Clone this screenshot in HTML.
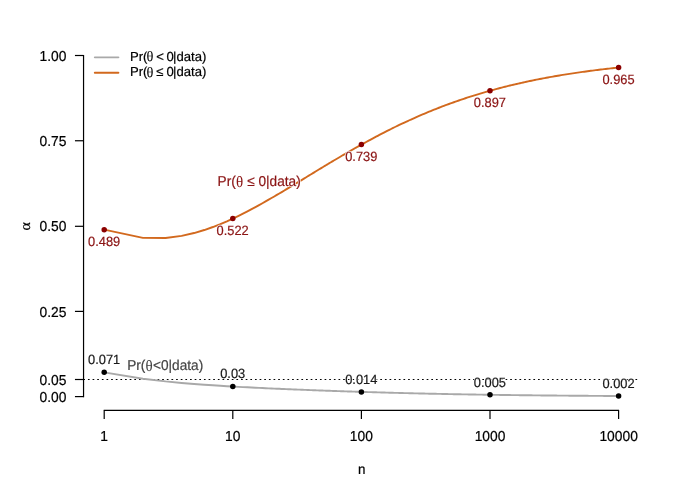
<!DOCTYPE html>
<html><head><meta charset="utf-8"><title>plot</title>
<style>
html,body{margin:0;padding:0;background:#fff;}
body{width:681px;height:494px;overflow:hidden;}
svg{display:block;will-change:transform;}
text{font-family:"Liberation Sans",sans-serif;text-rendering:geometricPrecision;stroke-width:0.2px;}
</style></head><body>
<svg width="681" height="494" viewBox="0 0 681 494">
<rect width="681" height="494" fill="#ffffff"/>

<g stroke="#000" stroke-width="1.2" fill="none" stroke-linecap="butt">
<path d="M83.55 54.90 V397.20"/>
<path d="M74.95 396.60 H83.55"/>
<path d="M74.95 379.50 H83.55"/>
<path d="M74.95 311.40 H83.55"/>
<path d="M74.95 226.30 H83.55"/>
<path d="M74.95 140.75 H83.55"/>
<path d="M74.95 55.50 H83.55"/>
<path d="M103.70 410.40 H619.10"/>
<path d="M104.20 410.40 V419.10"/>
<path d="M232.80 410.40 V419.10"/>
<path d="M361.40 410.40 V419.10"/>
<path d="M490.00 410.40 V419.10"/>
<path d="M618.60 410.40 V419.10"/>
</g>
<text transform="translate(66.40 401.90) scale(1 1.045)" font-size="13.84px" fill="#000" stroke="#000" text-anchor="end">0.00</text>
<text transform="translate(66.40 384.84) scale(1 1.045)" font-size="13.84px" fill="#000" stroke="#000" text-anchor="end">0.05</text>
<text transform="translate(66.40 316.61) scale(1 1.045)" font-size="13.84px" fill="#000" stroke="#000" text-anchor="end">0.25</text>
<text transform="translate(66.40 231.32) scale(1 1.045)" font-size="13.84px" fill="#000" stroke="#000" text-anchor="end">0.50</text>
<text transform="translate(66.40 146.04) scale(1 1.045)" font-size="13.84px" fill="#000" stroke="#000" text-anchor="end">0.75</text>
<text transform="translate(66.40 60.75) scale(1 1.045)" font-size="13.84px" fill="#000" stroke="#000" text-anchor="end">1.00</text>
<text transform="translate(104.20 440.50) scale(1 1.045)" font-size="13.84px" fill="#000" stroke="#000" text-anchor="middle">1</text>
<text transform="translate(232.80 440.50) scale(1 1.045)" font-size="13.84px" fill="#000" stroke="#000" text-anchor="middle">10</text>
<text transform="translate(361.40 440.50) scale(1 1.045)" font-size="13.84px" fill="#000" stroke="#000" text-anchor="middle">100</text>
<text transform="translate(490.00 440.50) scale(1 1.045)" font-size="13.84px" fill="#000" stroke="#000" text-anchor="middle">1000</text>
<text transform="translate(618.60 440.50) scale(1 1.045)" font-size="13.84px" fill="#000" stroke="#000" text-anchor="middle">10000</text>
<text transform="translate(361.70 474.00) scale(1 1.045)" font-size="13.40px" fill="#000" stroke="#000" text-anchor="middle">n</text>
<text transform="translate(29.7 226.3) rotate(-90) scale(1.06 0.97)" font-size="15px" fill="#000" stroke="#000" text-anchor="middle" style="font-family:'Liberation Serif',serif">α</text>
<path d="M83.30 379.50 H639.50" stroke="#000" stroke-width="1" stroke-dasharray="1.7 2.94" fill="none"/>
<path d="M104.20 372.36 L142.91 378.69 L165.56 381.39 L181.62 382.94 L194.09 383.98 L204.27 384.74 L212.88 385.32 L220.34 385.80 L226.92 386.20 L232.80 386.53 L238.12 386.83 L242.98 387.09 L247.45 387.32 L251.59 387.53 L255.45 387.72 L259.05 387.90 L262.44 388.06 L265.63 388.21 L268.65 388.35 L271.51 388.48 L274.24 388.60 L276.84 388.72 L279.32 388.82 L281.70 388.93 L283.98 389.03 L286.17 389.12 L288.27 389.21 L290.30 389.29 L292.26 389.37 L294.16 389.45 L295.99 389.53 L297.76 389.60 L299.48 389.67 L301.15 389.74 L302.77 389.80 L304.34 389.86 L305.87 389.92 L307.36 389.98 L308.81 390.04 L310.22 390.09 L311.60 390.14 L312.95 390.20 L314.26 390.25 L315.55 390.29 L316.80 390.34 L318.03 390.39 L319.23 390.43 L320.41 390.48 L321.56 390.52 L322.69 390.56 L323.79 390.60 L324.88 390.64 L325.94 390.68 L326.99 390.72 L328.01 390.75 L329.02 390.79 L330.01 390.82 L330.98 390.86 L331.93 390.89 L332.87 390.93 L333.79 390.96 L334.70 390.99 L335.60 391.02 L336.47 391.05 L337.34 391.08 L338.19 391.11 L339.03 391.14 L339.86 391.17 L340.68 391.20 L341.48 391.22 L342.27 391.25 L343.05 391.28 L343.82 391.30 L344.58 391.33 L345.33 391.35 L346.07 391.38 L346.80 391.40 L347.52 391.43 L348.23 391.45 L348.94 391.47 L349.63 391.50 L350.32 391.52 L350.99 391.54 L351.66 391.56 L352.32 391.59 L352.98 391.61 L353.62 391.63 L354.26 391.65 L354.89 391.67 L355.52 391.69 L356.13 391.71 L356.74 391.73 L357.35 391.75 L357.94 391.77 L358.54 391.79 L359.12 391.80 L359.70 391.82 L360.27 391.84 L360.84 391.86 L361.40 391.88 L363.05 391.93 L364.65 391.98 L366.21 392.02 L368.23 392.09 L369.69 392.13 L371.12 392.17 L372.96 392.23 L374.75 392.28 L376.05 392.32 L377.75 392.37 L379.39 392.42 L381.38 392.47 L382.92 392.52 L384.42 392.56 L386.24 392.61 L387.65 392.65 L389.37 392.70 L391.04 392.74 L392.65 392.79 L394.54 392.84 L396.06 392.88 L397.83 392.92 L399.27 392.96 L400.94 393.00 L402.57 393.05 L404.41 393.09 L405.94 393.13 L407.67 393.17 L409.36 393.22 L410.99 393.26 L412.58 393.29 L414.33 393.34 L415.83 393.37 L417.49 393.41 L419.10 393.45 L420.86 393.49 L422.57 393.53 L424.05 393.56 L425.84 393.60 L427.40 393.64 L429.09 393.68 L430.73 393.71 L432.32 393.75 L434.02 393.78 L435.67 393.82 L437.41 393.86 L438.96 393.89 L440.61 393.92 L442.34 393.96 L443.89 393.99 L445.65 394.02 L447.23 394.05 L448.89 394.09 L450.50 394.12 L452.17 394.15 L453.80 394.18 L455.48 394.21 L457.12 394.24 L458.80 394.27 L460.44 394.30 L462.12 394.33 L463.75 394.36 L465.42 394.39 L467.05 394.42 L468.71 394.45 L470.32 394.48 L472.04 394.51 L473.63 394.53 L475.33 394.56 L476.98 394.59 L478.64 394.62 L480.26 394.64 L481.90 394.67 L483.55 394.69 L485.22 394.72 L486.84 394.74 L488.53 394.77 L490.17 394.79 L491.81 394.82 L493.46 394.84 L495.12 394.87 L496.78 394.89 L498.43 394.91 L500.09 394.94 L501.74 394.96 L503.39 394.98 L505.04 395.00 L506.68 395.02 L508.31 395.05 L509.98 395.07 L511.63 395.09 L513.27 395.11 L514.94 395.13 L516.60 395.15 L518.24 395.17 L519.90 395.19 L521.54 395.21 L523.20 395.23 L524.84 395.25 L526.49 395.27 L528.15 395.29 L529.79 395.30 L531.44 395.32 L533.09 395.34 L534.74 395.36 L536.40 395.38 L538.05 395.39 L539.70 395.41 L541.35 395.43 L543.00 395.44 L544.64 395.46 L546.29 395.48 L547.94 395.49 L549.60 395.51 L551.25 395.52 L552.90 395.54 L554.56 395.55 L556.20 395.57 L557.85 395.58 L559.50 395.60 L561.15 395.61 L562.80 395.63 L564.46 395.64 L566.11 395.66 L567.76 395.67 L569.41 395.68 L571.06 395.70 L572.71 395.71 L574.36 395.72 L576.01 395.74 L577.67 395.75 L579.31 395.76 L580.96 395.77 L582.61 395.79 L584.27 395.80 L585.92 395.81 L587.57 395.82 L589.22 395.83 L590.87 395.84 L592.52 395.86 L594.17 395.87 L595.82 395.88 L597.48 395.89 L599.12 395.90 L600.78 395.91 L602.43 395.92 L604.08 395.93 L605.73 395.94 L607.38 395.95 L609.03 395.96 L610.68 395.97 L612.33 395.98 L613.99 395.99 L615.64 396.00 L617.28 396.01 L618.60 396.01" stroke="#a9a9a9" stroke-width="1.9" fill="none" stroke-linejoin="round"/>
<path d="M104.20 229.66 L142.91 237.88 L165.56 238.00 L181.62 235.89 L194.09 233.05 L204.27 230.03 L212.88 227.01 L220.34 224.07 L226.92 221.26 L232.80 218.59 L238.12 216.05 L242.98 213.63 L247.45 211.34 L251.59 209.16 L255.45 207.09 L259.05 205.11 L262.44 203.22 L265.63 201.42 L268.65 199.70 L271.51 198.04 L274.24 196.46 L276.84 194.93 L279.32 193.47 L281.70 192.06 L283.98 190.70 L286.17 189.39 L288.27 188.12 L290.30 186.90 L292.26 185.71 L294.16 184.57 L295.99 183.46 L297.76 182.38 L299.48 181.33 L301.15 180.32 L302.77 179.33 L304.34 178.37 L305.87 177.44 L307.36 176.53 L308.81 175.65 L310.22 174.79 L311.60 173.95 L312.95 173.13 L314.26 172.33 L315.55 171.55 L316.80 170.78 L318.03 170.04 L319.23 169.31 L320.41 168.60 L321.56 167.90 L322.69 167.22 L323.79 166.55 L324.88 165.89 L325.94 165.25 L326.99 164.63 L328.01 164.01 L329.02 163.41 L330.01 162.81 L330.98 162.23 L331.93 161.66 L332.87 161.10 L333.79 160.55 L334.70 160.01 L335.60 159.48 L336.47 158.96 L337.34 158.45 L338.19 157.95 L339.03 157.45 L339.86 156.96 L340.68 156.49 L341.48 156.01 L342.27 155.55 L343.05 155.09 L343.82 154.64 L344.58 154.20 L345.33 153.77 L346.07 153.34 L346.80 152.91 L347.52 152.50 L348.23 152.08 L348.94 151.68 L349.63 151.28 L350.32 150.89 L350.99 150.50 L351.66 150.12 L352.32 149.74 L352.98 149.37 L353.62 149.00 L354.26 148.64 L354.89 148.28 L355.52 147.92 L356.13 147.58 L356.74 147.23 L357.35 146.89 L357.94 146.56 L358.54 146.22 L359.12 145.90 L359.70 145.57 L360.27 145.25 L360.84 144.94 L361.40 144.62 L363.05 143.71 L364.65 142.83 L366.21 141.97 L368.23 140.87 L369.69 140.08 L371.12 139.31 L372.96 138.32 L374.75 137.37 L376.05 136.68 L377.75 135.79 L379.39 134.93 L381.38 133.89 L382.92 133.10 L384.42 132.33 L386.24 131.40 L387.65 130.69 L389.37 129.83 L391.04 128.99 L392.65 128.19 L394.54 127.27 L396.06 126.52 L397.83 125.67 L399.27 124.98 L400.94 124.18 L402.57 123.41 L404.41 122.54 L405.94 121.83 L407.67 121.03 L409.36 120.26 L410.99 119.52 L412.58 118.80 L414.33 118.02 L415.83 117.35 L417.49 116.62 L419.10 115.92 L420.86 115.16 L422.57 114.43 L424.05 113.80 L425.84 113.05 L427.40 112.40 L429.09 111.70 L430.73 111.03 L432.32 110.39 L434.02 109.70 L435.67 109.05 L437.41 108.36 L438.96 107.75 L440.61 107.12 L442.34 106.45 L443.89 105.87 L445.65 105.21 L447.23 104.62 L448.89 104.01 L450.50 103.42 L452.17 102.82 L453.80 102.24 L455.48 101.64 L457.12 101.07 L458.80 100.49 L460.44 99.93 L462.12 99.36 L463.75 98.81 L465.42 98.25 L467.05 97.72 L468.71 97.18 L470.32 96.66 L472.04 96.11 L473.63 95.61 L475.33 95.08 L476.98 94.58 L478.64 94.07 L480.26 93.58 L481.90 93.10 L483.55 92.61 L485.22 92.12 L486.84 91.66 L488.53 91.18 L490.17 90.71 L491.81 90.26 L493.46 89.80 L495.12 89.35 L496.78 88.91 L498.43 88.47 L500.09 88.03 L501.74 87.60 L503.39 87.18 L505.04 86.76 L506.68 86.35 L508.31 85.95 L509.98 85.54 L511.63 85.14 L513.27 84.74 L514.94 84.35 L516.60 83.96 L518.24 83.59 L519.90 83.21 L521.54 82.84 L523.20 82.47 L524.84 82.11 L526.49 81.75 L528.15 81.40 L529.79 81.05 L531.44 80.71 L533.09 80.36 L534.74 80.03 L536.40 79.69 L538.05 79.37 L539.70 79.04 L541.35 78.72 L543.00 78.41 L544.64 78.10 L546.29 77.79 L547.94 77.48 L549.60 77.18 L551.25 76.89 L552.90 76.59 L554.56 76.30 L556.20 76.02 L557.85 75.74 L559.50 75.46 L561.15 75.18 L562.80 74.91 L564.46 74.64 L566.11 74.38 L567.76 74.12 L569.41 73.86 L571.06 73.61 L572.71 73.36 L574.36 73.11 L576.01 72.86 L577.67 72.62 L579.31 72.39 L580.96 72.15 L582.61 71.92 L584.27 71.69 L585.92 71.46 L587.57 71.24 L589.22 71.02 L590.87 70.80 L592.52 70.59 L594.17 70.38 L595.82 70.17 L597.48 69.97 L599.12 69.76 L600.78 69.56 L602.43 69.37 L604.08 69.17 L605.73 68.98 L607.38 68.79 L609.03 68.60 L610.68 68.42 L612.33 68.24 L613.99 68.06 L615.64 67.88 L617.28 67.70 L618.60 67.57" stroke="#d2691e" stroke-width="1.9" fill="none" stroke-linejoin="round"/>
<circle cx="104.20" cy="372.36" r="2.75" fill="#000"/>
<circle cx="104.20" cy="229.66" r="2.75" fill="#8b0000"/>
<circle cx="232.80" cy="386.53" r="2.75" fill="#000"/>
<circle cx="232.80" cy="218.59" r="2.75" fill="#8b0000"/>
<circle cx="361.40" cy="391.88" r="2.75" fill="#000"/>
<circle cx="361.40" cy="144.62" r="2.75" fill="#8b0000"/>
<circle cx="490.00" cy="394.79" r="2.75" fill="#000"/>
<circle cx="490.00" cy="90.76" r="2.75" fill="#8b0000"/>
<circle cx="618.60" cy="396.01" r="2.75" fill="#000"/>
<circle cx="618.60" cy="67.57" r="2.75" fill="#8b0000"/>
<text transform="translate(104.10 364.16) scale(1 1.045)" font-size="12.85px" fill="#fff" stroke="#fff" style="stroke-width:1.50px" stroke-linejoin="round" text-anchor="middle">0.071</text><text transform="translate(104.10 364.16) scale(1 1.045)" font-size="12.85px" fill="#1a1a1a" stroke="#1a1a1a" text-anchor="middle">0.071</text>
<text transform="translate(232.70 378.33) scale(1 1.045)" font-size="12.85px" fill="#fff" stroke="#fff" style="stroke-width:1.50px" stroke-linejoin="round" text-anchor="middle">0.03</text><text transform="translate(232.70 378.33) scale(1 1.045)" font-size="12.85px" fill="#1a1a1a" stroke="#1a1a1a" text-anchor="middle">0.03</text>
<text transform="translate(361.30 383.68) scale(1 1.045)" font-size="12.85px" fill="#fff" stroke="#fff" style="stroke-width:1.50px" stroke-linejoin="round" text-anchor="middle">0.014</text><text transform="translate(361.30 383.68) scale(1 1.045)" font-size="12.85px" fill="#1a1a1a" stroke="#1a1a1a" text-anchor="middle">0.014</text>
<text transform="translate(489.90 386.59) scale(1 1.045)" font-size="12.85px" fill="#fff" stroke="#fff" style="stroke-width:1.50px" stroke-linejoin="round" text-anchor="middle">0.005</text><text transform="translate(489.90 386.59) scale(1 1.045)" font-size="12.85px" fill="#1a1a1a" stroke="#1a1a1a" text-anchor="middle">0.005</text>
<text transform="translate(618.50 387.81) scale(1 1.045)" font-size="12.85px" fill="#fff" stroke="#fff" style="stroke-width:1.50px" stroke-linejoin="round" text-anchor="middle">0.002</text><text transform="translate(618.50 387.81) scale(1 1.045)" font-size="12.85px" fill="#1a1a1a" stroke="#1a1a1a" text-anchor="middle">0.002</text>
<text transform="translate(104.10 246.26) scale(1 1.045)" font-size="12.85px" fill="#fff" stroke="#fff" style="stroke-width:1.50px" stroke-linejoin="round" text-anchor="middle">0.489</text><text transform="translate(104.10 246.26) scale(1 1.045)" font-size="12.85px" fill="#8b1414" stroke="#8b1414" text-anchor="middle">0.489</text>
<text transform="translate(232.70 235.19) scale(1 1.045)" font-size="12.85px" fill="#fff" stroke="#fff" style="stroke-width:1.50px" stroke-linejoin="round" text-anchor="middle">0.522</text><text transform="translate(232.70 235.19) scale(1 1.045)" font-size="12.85px" fill="#8b1414" stroke="#8b1414" text-anchor="middle">0.522</text>
<text transform="translate(361.30 161.22) scale(1 1.045)" font-size="12.85px" fill="#fff" stroke="#fff" style="stroke-width:1.50px" stroke-linejoin="round" text-anchor="middle">0.739</text><text transform="translate(361.30 161.22) scale(1 1.045)" font-size="12.85px" fill="#8b1414" stroke="#8b1414" text-anchor="middle">0.739</text>
<text transform="translate(489.90 107.36) scale(1 1.045)" font-size="12.85px" fill="#fff" stroke="#fff" style="stroke-width:1.50px" stroke-linejoin="round" text-anchor="middle">0.897</text><text transform="translate(489.90 107.36) scale(1 1.045)" font-size="12.85px" fill="#8b1414" stroke="#8b1414" text-anchor="middle">0.897</text>
<text transform="translate(618.50 84.17) scale(1 1.045)" font-size="12.85px" fill="#fff" stroke="#fff" style="stroke-width:1.50px" stroke-linejoin="round" text-anchor="middle">0.965</text><text transform="translate(618.50 84.17) scale(1 1.045)" font-size="12.85px" fill="#8b1414" stroke="#8b1414" text-anchor="middle">0.965</text>
<text transform="translate(217.60 185.90) scale(1 1.045)" font-size="13.65px" fill="#fff" stroke="#fff" style="stroke-width:1.50px" stroke-linejoin="round" text-anchor="start">Pr(<tspan dx="0.15" dy="0.85" font-size="15.02px" style="font-family:'Liberation Serif',serif;stroke-width:0.05px">θ</tspan><tspan dx="0.25" dy="-0.85"> ≤ 0|data)</tspan></text><text transform="translate(217.60 185.90) scale(1 1.045)" font-size="13.65px" fill="#8b1414" stroke="#8b1414" text-anchor="start">Pr(<tspan dx="0.15" dy="0.85" font-size="15.02px" style="font-family:'Liberation Serif',serif;stroke-width:0.05px">θ</tspan><tspan dx="0.25" dy="-0.85"> ≤ 0|data)</tspan></text>
<text transform="translate(127.20 370.00) scale(1 1.045)" font-size="13.65px" fill="#fff" stroke="#fff" style="stroke-width:1.50px" stroke-linejoin="round" text-anchor="start">Pr(<tspan dx="0.15" dy="0.85" font-size="15.02px" style="font-family:'Liberation Serif',serif;stroke-width:0.05px">θ</tspan><tspan dx="0.25" dy="-0.85">&lt;0|data)</tspan></text><text transform="translate(127.20 370.00) scale(1 1.045)" font-size="13.65px" fill="#444" stroke="#444" text-anchor="start">Pr(<tspan dx="0.15" dy="0.85" font-size="15.02px" style="font-family:'Liberation Serif',serif;stroke-width:0.05px">θ</tspan><tspan dx="0.25" dy="-0.85">&lt;0|data)</tspan></text>
<path d="M94.8 57.35 H118.4" stroke="#a9a9a9" stroke-width="1.9" fill="none" stroke-linecap="round"/>
<path d="M94.8 72.75 H118.4" stroke="#d2691e" stroke-width="1.9" fill="none" stroke-linecap="round"/>
<text transform="translate(129.90 60.60) scale(1 1.000)" font-size="13.10px" fill="#000" stroke="#000">Pr(</text><text transform="translate(146.47 61.45) scale(1 1.000)" font-size="14.41px" fill="#000" stroke="#000" style="font-family:'Liberation Serif',serif;stroke-width:0.05px">θ</text><text transform="translate(156.30 60.60) scale(1 1.000)" font-size="13.10px" fill="#000" stroke="#000">&lt;</text><text transform="translate(166.60 60.60) scale(1 1.000)" font-size="13.10px" fill="#000" stroke="#000">0</text><text transform="translate(173.10 60.60) scale(1 1.000)" font-size="13.10px" fill="#000" stroke="#000">|data)</text>
<text transform="translate(129.90 76.05) scale(1 1.000)" font-size="13.10px" fill="#000" stroke="#000">Pr(</text><text transform="translate(146.47 76.90) scale(1 1.000)" font-size="14.41px" fill="#000" stroke="#000" style="font-family:'Liberation Serif',serif;stroke-width:0.05px">θ</text><text transform="translate(156.30 76.05) scale(1 1.000)" font-size="13.10px" fill="#000" stroke="#000">≤</text><text transform="translate(166.60 76.05) scale(1 1.000)" font-size="13.10px" fill="#000" stroke="#000">0</text><text transform="translate(173.10 76.05) scale(1 1.000)" font-size="13.10px" fill="#000" stroke="#000">|data)</text>
</svg></body></html>
